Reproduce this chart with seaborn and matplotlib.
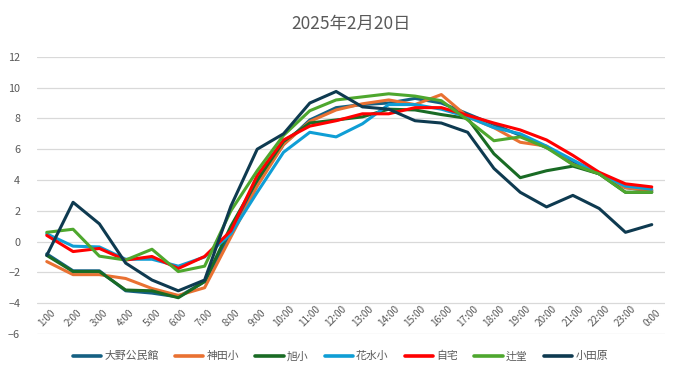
import pandas as pd
import seaborn as sns
from matplotlib import pyplot as plt

hours = ['1:00', '2:00', '3:00', '4:00', '5:00', '6:00', '7:00', '8:00', '9:00', '10:00',
         '11:00', '12:00', '13:00', '14:00', '15:00', '16:00', '17:00', '18:00', '19:00',
         '20:00', '21:00', '22:00', '23:00', '0:00']

ono = [-0.8, -1.9, -1.9, -3.2, -3.35, -3.6, -2.6, 0.5, 3.8, 6.3, 7.9, 8.7,
       8.9, 9.0, 9.3, 9.0, 8.3, 7.6, 6.9, 6.1, 5.2, 4.4, 3.5, 3.3]
kanda = [-1.3, -2.15, -2.15, -2.4, -3.05, -3.5, -3.0, 0.3, 3.6, 6.3, 7.8, 8.55,
         8.95, 9.2, 8.9, 9.55, 8.1, 7.4, 6.45, 6.2, 5.0, 4.4, 3.5, 3.3]
asahi = [-0.9, -1.95, -1.95, -3.15, -3.2, -3.65, -2.6, 1.0, 4.0, 6.5, 7.7, 7.9,
         8.1, 8.6, 8.55, 8.25, 8.0, 5.7, 4.15, 4.6, 4.9, 4.4, 3.2, 3.2]
hanamizu = [0.5, -0.3, -0.35, -1.15, -1.15, -1.6, -1.0, 0.5, 3.2, 5.8, 7.1, 6.8,
            7.65, 8.9, 8.9, 8.6, 8.1, 7.4, 7.0, 6.2, 5.3, 4.4, 3.6, 3.4]
jitaku = [0.4, -0.65, -0.45, -1.2, -0.97, -1.75, -0.97, 0.7, 4.3, 6.6, 7.5, 7.85,
          8.3, 8.3, 8.7, 8.7, 8.2, 7.7, 7.25, 6.6, 5.6, 4.5, 3.75, 3.55]
tsujido = [0.6, 0.8, -0.95, -1.2, -0.5, -1.95, -1.6, 2.0, 4.6, 6.9, 8.5, 9.2,
           9.4, 9.6, 9.45, 9.15, 7.9, 6.55, 6.8, 6.1, 5.0, 4.4, 3.2, 3.2]
odawara = [-0.9, 2.55, 1.15, -1.4, -2.5, -3.2, -2.5, 2.3, 6.0, 7.0, 9.0, 9.75,
           8.75, 8.6, 7.85, 7.7, 7.1, 4.75, 3.2, 2.25, 3.0, 2.15, 0.6, 1.1]

names = ['大野公民館', '神田小', '旭小', '花水小', '自宅', '辻堂', '小田原']
series = [ono, kanda, asahi, hanamizu, jitaku, tsujido, odawara]
colors = ['#156082', '#E97132', '#196B24', '#0F9ED5', '#FF0000', '#4EA72E', '#0E3A50']

df = pd.DataFrame({
    'x': list(range(len(hours))) * len(names),
    'temp': [v for s in series for v in s],
    'site': [n for n in names for _ in hours],
})

sns.set_style('white')
plt.rcParams['font.family'] = ['Noto Sans CJK JP', 'DejaVu Sans']

fig, ax = plt.subplots(figsize=(6.81, 3.79), dpi=100)
fig.subplots_adjust(left=0.054, right=0.976, top=0.85, bottom=0.119)

sns.lineplot(data=df, x='x', y='temp', hue='site', hue_order=names,
             palette=dict(zip(names, colors)), linewidth=2.2, sort=False, ax=ax, legend=True)

ax.set_ylim(-6, 12)
ax.set_yticks(range(-6, 13, 2))
ax.set_xlim(-0.38, 23.49)
ax.grid(axis='y', color='#d9d9d9', linewidth=0.9)
ax.set_axisbelow(True)
for s in ax.spines.values():
    s.set_visible(False)
ax.set_xlabel('')
ax.set_ylabel('')

# labels sit just above the bottom gridline, like the original
ax.set_xticks(range(len(hours)))
ax.set_xticklabels(hours, rotation=45, ha='center', va='bottom')
ax.tick_params(axis='x', length=0, pad=-4, labelsize=7.2, labelcolor='#595959')
ax.tick_params(axis='y', length=0, pad=12, labelsize=7.8, labelcolor='#595959')

ax.set_title('2025年2月20日', fontsize=12.5, color='#595959', pad=20)

handles, labels = ax.get_legend_handles_labels()
ax.legend_.remove()
for h in handles:
    h.set_linewidth(2.6)
fig.legend(handles, labels, loc='center', bbox_to_anchor=(0.5, 0.06), ncol=7,
           frameon=False, fontsize=7.8, labelcolor='#595959', handlelength=2.6,
           handletextpad=0.3, columnspacing=1.5)

plt.savefig('out.png', dpi=100)
